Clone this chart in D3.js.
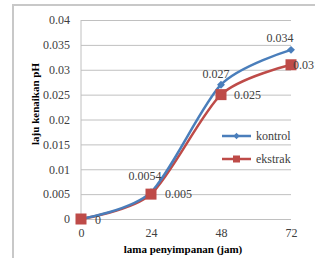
<!DOCTYPE html>
<html>
<head>
<meta charset="utf-8">
<script src="https://cdn.jsdelivr.net/npm/d3@7"></script>
<style>
  body { margin: 0; background: #fff; }
  svg { display: block; }
  svg text { font-family: "Liberation Serif", "Times New Roman", "DejaVu Serif", serif; }
  .tick text { font-size: 12px; fill: #404040; }
  .grid line { stroke: #c0c0c0; stroke-width: 1; }
  .grid path { stroke: none; }
  .lbl { font-size: 12px; fill: #404040; }
  .title { font-size: 11px; font-weight: bold; fill: #000; }
</style>
</head>
<body>
<div id="chart"></div>
<script>
// data
const hours = [0, 24, 48, 72];
const kontrol = [0, 0.0054, 0.027, 0.034];
const ekstrak = [0, 0.005, 0.025, 0.031];
const yTicks = [0, 0.005, 0.01, 0.015, 0.02, 0.025, 0.03, 0.035, 0.04];

const W = 315, H = 258;
const plotL = 81, plotR = 291, plotT = 20, plotB = 219;

const svg = d3.select('#chart').append('svg')
  .attr('width', W)
  .attr('height', H);

// chart frame (cut at right edge)
svg.append('path')
  .attr('d', `M13,${H} L13,5 L${W + 2},5`)
  .attr('fill', 'none')
  .attr('stroke', '#c8c8c8')
  .attr('stroke-width', 2);

const x = d3.scaleLinear().domain([0, 72]).range([plotL, plotR]);
const y = d3.scaleLinear().domain([0, 0.04]).range([plotB, plotT]);

// horizontal grid
svg.append('g')
  .attr('class', 'grid')
  .attr('transform', `translate(${plotL},0)`)
  .call(d3.axisLeft(y).tickValues(yTicks).tickSize(-(plotR - plotL)).tickFormat(''));

// y axis line
svg.append('line')
  .attr('x1', plotL).attr('x2', plotL)
  .attr('y1', plotT).attr('y2', plotB)
  .attr('stroke', '#c0c0c0');

// y tick labels
const yAxis = svg.append('g')
  .attr('transform', `translate(${plotL},0)`)
  .call(d3.axisLeft(y).tickValues(yTicks).tickSize(0).tickPadding(11).tickFormat(d => String(+d.toFixed(3))));
yAxis.select('.domain').remove();
yAxis.attr('font-family', null);

// x tick labels
const xAxis = svg.append('g')
  .attr('transform', `translate(0,${plotB})`)
  .call(d3.axisBottom(x).tickValues(hours).tickSize(0).tickPadding(9));
xAxis.select('.domain').remove();
xAxis.attr('font-family', null);

// titles
svg.append('text')
  .attr('class', 'title')
  .attr('transform', 'translate(39,104) rotate(-90)')
  .attr('text-anchor', 'middle')
  .text('laju kenaikan pH');

svg.append('text')
  .attr('class', 'title')
  .attr('x', 183)
  .attr('y', 253)
  .attr('text-anchor', 'middle')
  .text('lama penyimpanan (jam)');

const line = d3.line()
  .x((d, i) => x(hours[i]))
  .y(d => y(d))
  .curve(d3.curveCardinal.tension(0.2));

const blue = '#4a7ebb', red = '#be4b48';

// ekstrak series
svg.append('path')
  .datum(ekstrak)
  .attr('d', line)
  .attr('fill', 'none')
  .attr('stroke', red)
  .attr('stroke-width', 2.5);

// kontrol series
svg.append('path')
  .datum(kontrol)
  .attr('d', line)
  .attr('fill', 'none')
  .attr('stroke', blue)
  .attr('stroke-width', 2.5);

// kontrol markers (diamonds)
svg.selectAll('.dia')
  .data(kontrol)
  .enter().append('path')
  .attr('class', 'dia')
  .attr('d', d3.symbol(d3.symbolDiamond2, 40))
  .attr('transform', (d, i) => `translate(${x(hours[i])},${y(d)})`)
  .attr('fill', blue);

// ekstrak markers (squares)
const sq = 11;
svg.selectAll('.sq')
  .data(ekstrak)
  .enter().append('rect')
  .attr('class', 'sq')
  .attr('x', (d, i) => x(hours[i]) - sq / 2)
  .attr('y', d => y(d) - sq / 2)
  .attr('width', sq)
  .attr('height', sq)
  .attr('fill', red);

// data labels
const kDx = [16, -6, -5, -11], kDy = [5, -12, -7, -8];
svg.selectAll('.klbl')
  .data(kontrol)
  .enter().append('text')
  .attr('class', 'lbl')
  .attr('x', (d, i) => x(hours[i]) + kDx[i])
  .attr('y', (d, i) => y(d) + kDy[i])
  .attr('text-anchor', 'middle')
  .text((d, i) => i === 0 ? '' : d);

const eDx = [14, 14, 13, 2], eDy = [5, 4, 4, 4];
svg.selectAll('.elbl')
  .data(ekstrak)
  .enter().append('text')
  .attr('class', 'lbl')
  .attr('x', (d, i) => x(hours[i]) + eDx[i])
  .attr('y', (d, i) => y(d) + eDy[i])
  .text(d => d);

// legend
const lg = svg.append('g');
[['kontrol', blue, 'dia'], ['ekstrak', red, 'sq']].forEach((s, i) => {
  const ly = 136 + i * 23;
  lg.append('line')
    .attr('x1', 222).attr('x2', 251)
    .attr('y1', ly).attr('y2', ly)
    .attr('stroke', s[1]).attr('stroke-width', 2.5);
  if (s[2] === 'dia') {
    lg.append('path')
      .attr('d', d3.symbol(d3.symbolDiamond2, 25))
      .attr('transform', `translate(236.5,${ly})`)
      .attr('fill', s[1]);
  } else {
    lg.append('rect')
      .attr('x', 233).attr('y', ly - 3.5)
      .attr('width', 7).attr('height', 7)
      .attr('fill', s[1]);
  }
  lg.append('text')
    .attr('class', 'lbl')
    .attr('x', 256).attr('y', ly + 4)
    .text(s[0]);
});
</script>
</body>
</html>
